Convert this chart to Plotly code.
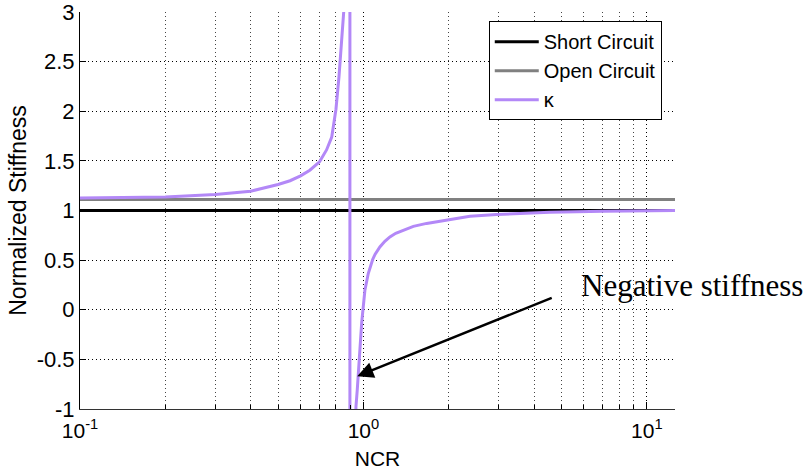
import plotly.graph_objects as go

# ---- data ----
ncr_left = [0.10, 0.20, 0.30, 0.40, 0.50, 0.551, 0.60, 0.647, 0.70, 0.741,
            0.773, 0.80, 0.820, 0.838, 0.852, 0.87, 0.89, 0.896]
kappa_left = [1.127, 1.137, 1.161, 1.195, 1.262, 1.30, 1.349, 1.406, 1.49, 1.61,
              1.74, 2.02, 2.35, 2.69, 3.0, 4.0, 10.0, 60.0]
ncr_right = [0.896, 0.90, 0.92, 0.941, 0.951, 0.966, 0.986, 1.012, 1.040, 1.078,
             1.10, 1.143, 1.19, 1.240, 1.30, 1.382, 1.50, 1.671, 1.998, 2.376,
             2.951, 4.55, 7.01, 12.57]
kappa_right = [-60.0, -20.0, -3.5, -0.98, -0.81, -0.47, -0.13, 0.196, 0.365, 0.507,
               0.56, 0.633, 0.69, 0.734, 0.77, 0.80, 0.84, 0.87, 0.91, 0.943,
               0.96, 0.983, 0.993, 1.0]
ncr_kappa = ncr_left + ncr_right
kappa = kappa_left + kappa_right

ncr_limits = [0.1, 12.57]
short_circuit = [1.0, 1.0]
open_circuit = [1.11, 1.11]

x_tickvals = [0.1, 1, 10]
x_ticktext = ["10<sup>-1</sup>", "10<sup>0</sup>", "10<sup>1</sup>"]
y_tickvals = [-1, -0.5, 0, 0.5, 1, 1.5, 2, 2.5, 3]
y_ticktext = ["-1", "-0.5", "0", "0.5", "1", "1.5", "2", "2.5", "3"]

fig = go.Figure()
fig.add_trace(go.Scatter(x=ncr_limits, y=short_circuit, mode="lines",
                         name="Short Circuit", line=dict(color="#000000", width=3)))
fig.add_trace(go.Scatter(x=ncr_limits, y=open_circuit, mode="lines",
                         name="Open Circuit", line=dict(color="#808080", width=3)))
fig.add_trace(go.Scatter(x=ncr_kappa, y=kappa, mode="lines",
                         name="κ", line=dict(color="#B388F7", width=3)))

font_sans = "Liberation Sans, Arial, sans-serif"
grid_dash = "1px,3px"

fig.update_layout(
    width=812, height=470,
    margin=dict(l=80, r=137, t=12, b=61),
    paper_bgcolor="white", plot_bgcolor="white",
    font=dict(family=font_sans, size=21, color="black"),
    showlegend=True,
    legend=dict(x=0.687, y=0.977, xanchor="left", yanchor="top",
                bgcolor="white", bordercolor="black", borderwidth=1,
                font=dict(family=font_sans, size=20, color="black"),
                itemwidth=44, tracegroupgap=0),
    xaxis=dict(type="log", range=[-1, 1.0993], automargin=False,
               tickvals=x_tickvals, ticktext=x_ticktext,
               ticks="inside", ticklen=7, tickcolor="black",
               ticklabelstandoff=3, ticklabeloverflow="allow",
               showline=True, linecolor="#333333", linewidth=1, mirror=False,
               showgrid=True, gridcolor="#000000", griddash=grid_dash, gridwidth=1,
               zeroline=False,
               minor=dict(dtick="D1", showgrid=True, gridcolor="#444444",
                          griddash=grid_dash, ticks="inside", ticklen=4,
                          tickcolor="black"),
               title=dict(text="NCR", font=dict(size=21), standoff=10),
               tickfont=dict(size=21)),
    yaxis=dict(range=[-1, 3], automargin=False,
               tickvals=y_tickvals, ticktext=y_ticktext,
               ticks="inside", ticklen=6, tickcolor="black",
               ticklabeloverflow="allow",
               showline=True, linecolor="black", linewidth=1, mirror=False,
               showgrid=True, gridcolor="#000000", griddash=grid_dash, gridwidth=1,
               zeroline=False,
               title=dict(text="Normalized Stiffness", font=dict(size=23), standoff=3),
               tickfont=dict(size=22)),
)

# arrow pointing at the negative-stiffness branch
fig.add_annotation(x=-0.0219, y=-0.67, xref="x", yref="y", text="",
                   showarrow=True, arrowhead=2, arrowsize=1.3, arrowwidth=2.5,
                   arrowcolor="black", axref="pixel", ayref="pixel",
                   ax=196, ay=-79)
fig.add_annotation(x=1.029, y=0.312, xref="paper", yref="paper",
                   text="Negative stiffness", showarrow=False,
                   xanchor="center", yanchor="middle",
                   font=dict(family="Liberation Serif, Times New Roman, serif",
                             size=31, color="black"))

fig.write_html("out.html")
